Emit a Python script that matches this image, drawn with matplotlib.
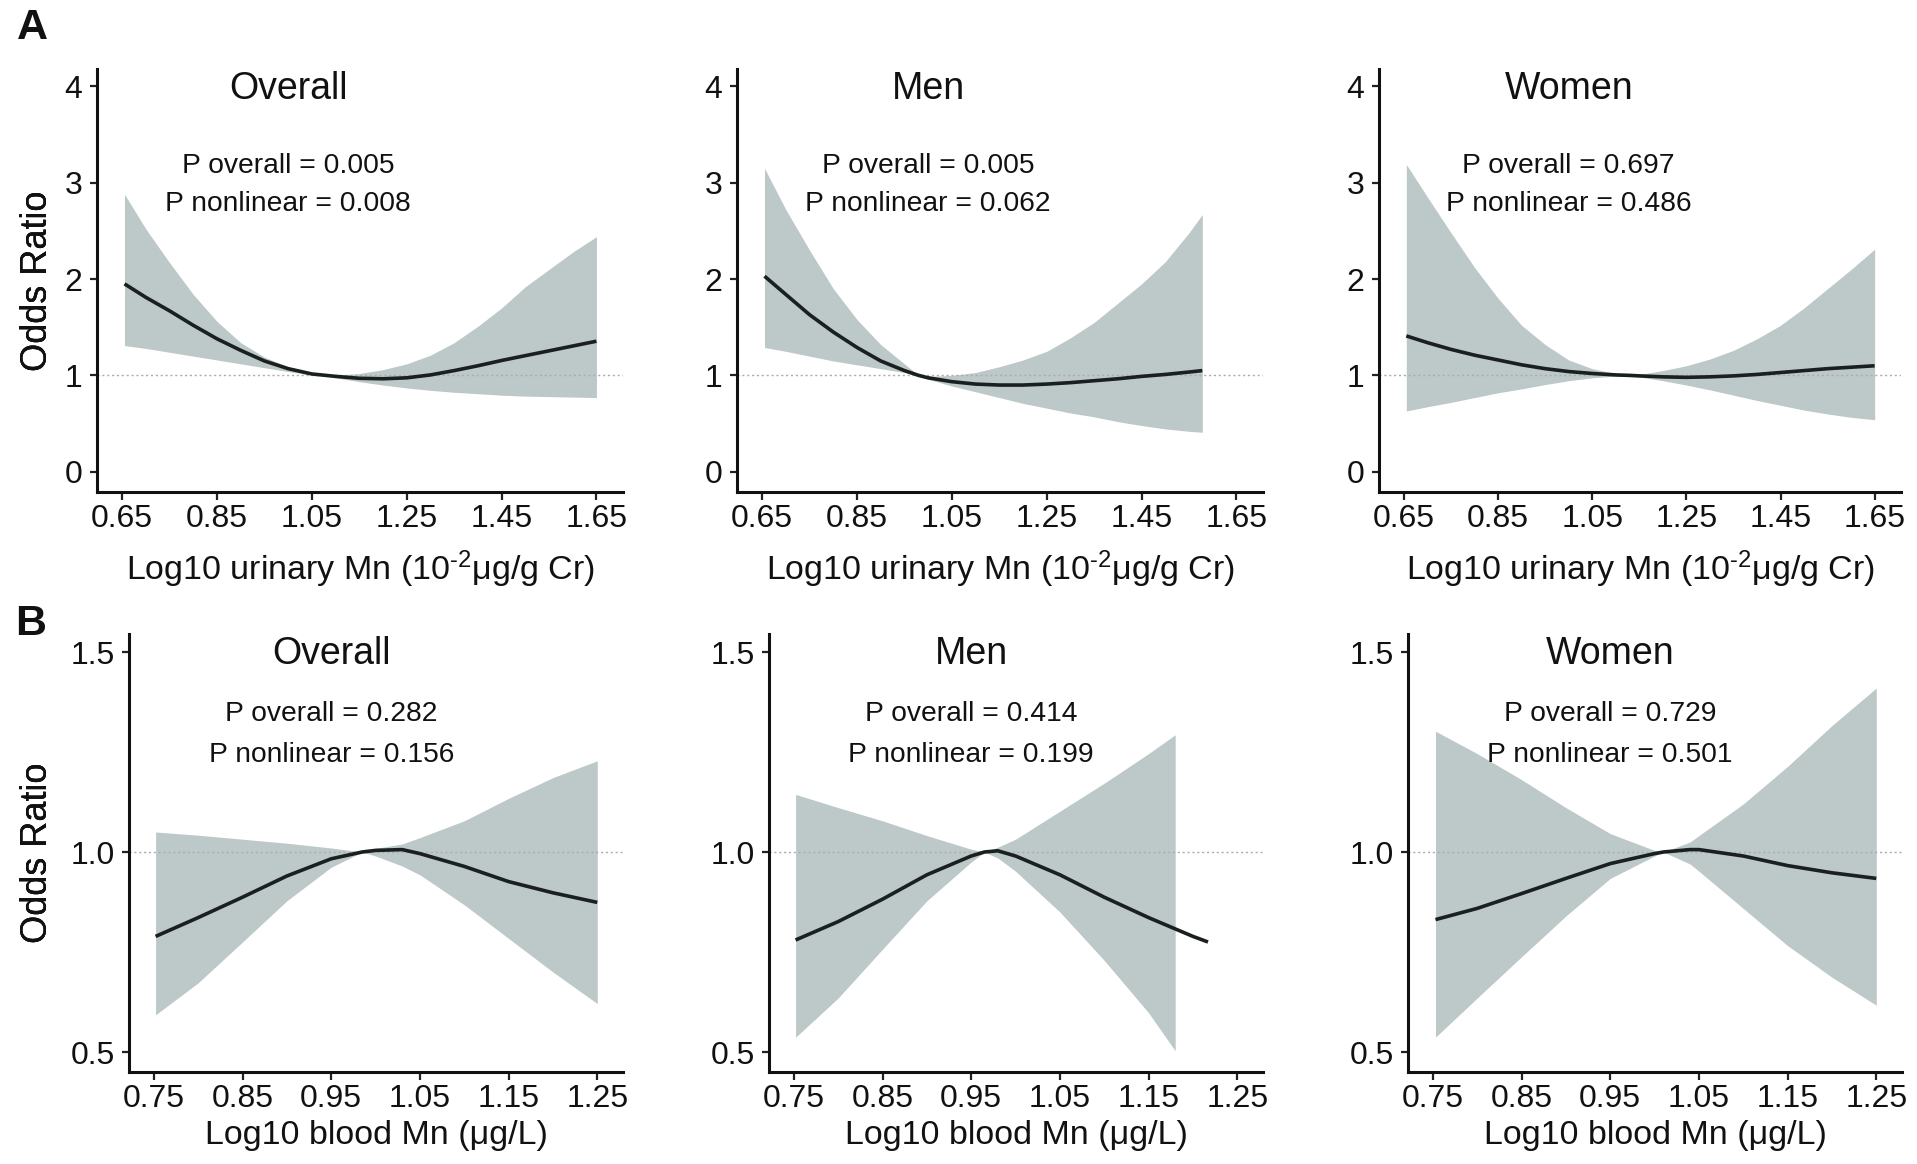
import matplotlib
matplotlib.use('Agg')
import matplotlib.pyplot as plt

plt.rcParams['font.family'] = ['Liberation Sans', 'DejaVu Sans']
plt.rcParams['mathtext.fontset'] = 'custom'
plt.rcParams['mathtext.rm'] = 'Liberation Sans'
plt.rcParams['mathtext.it'] = 'Liberation Sans:italic'
plt.rcParams['mathtext.bf'] = 'Liberation Sans:bold'

# ---------------- data ----------------
group_titles = ["Overall", "Men", "Women"]

# Row A: urinary Mn
a_xticks = [0.65, 0.85, 1.05, 1.25, 1.45, 1.65]
a_xticklabels = ["0.65", "0.85", "1.05", "1.25", "1.45", "1.65"]
a_yticks = [0, 1, 2, 3, 4]
a_yticklabels = ["0", "1", "2", "3", "4"]
a_xlabel = "Log10 urinary Mn (10$^{\\text{-}2}$μg/g Cr)"
a_p_overall = ["0.005", "0.005", "0.697"]
a_p_nonlinear = ["0.008", "0.062", "0.486"]

a1_x = [0.655, 0.70, 0.75, 0.80, 0.85, 0.90, 0.95, 1.00, 1.05, 1.08, 1.10, 1.15, 1.20, 1.25, 1.30, 1.35, 1.40, 1.45, 1.50, 1.55, 1.60, 1.65]
a1_or = [1.95, 1.81, 1.67, 1.52, 1.38, 1.26, 1.15, 1.07, 1.015, 1.0, 0.99, 0.97, 0.965, 0.975, 1.005, 1.05, 1.10, 1.155, 1.205, 1.255, 1.305, 1.355]
a1_hi = [2.88, 2.52, 2.17, 1.84, 1.56, 1.34, 1.19, 1.09, 1.025, 1.0, 1.0, 1.02, 1.06, 1.12, 1.21, 1.34, 1.51, 1.70, 1.92, 2.10, 2.28, 2.44]
a1_lo = [1.31, 1.28, 1.24, 1.20, 1.16, 1.12, 1.08, 1.04, 1.005, 1.0, 0.975, 0.935, 0.90, 0.87, 0.845, 0.825, 0.81, 0.795, 0.785, 0.78, 0.775, 0.77]

a2_x = [0.655, 0.70, 0.75, 0.80, 0.85, 0.90, 0.95, 0.98, 1.00, 1.05, 1.10, 1.15, 1.20, 1.25, 1.30, 1.35, 1.40, 1.45, 1.50, 1.55, 1.578]
a2_or = [2.03, 1.84, 1.63, 1.45, 1.29, 1.15, 1.05, 1.0, 0.975, 0.935, 0.91, 0.90, 0.90, 0.91, 0.925, 0.945, 0.965, 0.99, 1.01, 1.035, 1.05]
a2_hi = [3.15, 2.72, 2.30, 1.90, 1.58, 1.32, 1.12, 1.0, 0.99, 1.0, 1.03, 1.09, 1.16, 1.25, 1.39, 1.55, 1.75, 1.95, 2.18, 2.48, 2.67]
a2_lo = [1.29, 1.25, 1.20, 1.15, 1.11, 1.07, 1.03, 1.0, 0.96, 0.89, 0.83, 0.77, 0.71, 0.66, 0.61, 0.57, 0.52, 0.48, 0.445, 0.42, 0.41]

a3_x = [0.655, 0.70, 0.75, 0.80, 0.85, 0.90, 0.95, 1.00, 1.05, 1.10, 1.13, 1.15, 1.20, 1.25, 1.30, 1.35, 1.40, 1.45, 1.50, 1.55, 1.60, 1.65]
a3_or = [1.41, 1.34, 1.27, 1.21, 1.16, 1.11, 1.07, 1.04, 1.02, 1.005, 1.0, 0.995, 0.985, 0.98, 0.985, 0.995, 1.01, 1.03, 1.05, 1.07, 1.085, 1.10]
a3_hi = [3.19, 2.85, 2.48, 2.12, 1.80, 1.52, 1.32, 1.16, 1.07, 1.02, 1.0, 1.01, 1.05, 1.10, 1.17, 1.26, 1.38, 1.52, 1.70, 1.90, 2.10, 2.31]
a3_lo = [0.63, 0.675, 0.72, 0.77, 0.82, 0.86, 0.905, 0.945, 0.975, 0.993, 1.0, 0.985, 0.945, 0.90, 0.85, 0.795, 0.74, 0.69, 0.64, 0.60, 0.565, 0.54]

# Row B: blood Mn
b_xticks = [0.75, 0.85, 0.95, 1.05, 1.15, 1.25]
b_xticklabels = ["0.75", "0.85", "0.95", "1.05", "1.15", "1.25"]
b_yticks = [0.5, 1.0, 1.5]
b_yticklabels = ["0.5", "1.0", "1.5"]
b_xlabel = "Log10 blood Mn (μg/L)"
b_p_overall = ["0.282", "0.414", "0.729"]
b_p_nonlinear = ["0.156", "0.199", "0.501"]

b1_x = [0.752, 0.80, 0.85, 0.90, 0.95, 0.985, 1.00, 1.03, 1.05, 1.10, 1.15, 1.20, 1.25]
b1_or = [0.789, 0.836, 0.887, 0.94, 0.983, 1.0, 1.004, 1.006, 0.996, 0.964, 0.926, 0.898, 0.874]
b1_hi = [1.05, 1.042, 1.032, 1.022, 1.01, 1.0, 1.009, 1.02, 1.036, 1.078, 1.134, 1.186, 1.228]
b1_lo = [0.593, 0.673, 0.775, 0.878, 0.962, 1.0, 0.99, 0.965, 0.943, 0.868, 0.784, 0.70, 0.621]

b2_x = [0.752, 0.80, 0.85, 0.90, 0.95, 0.965, 0.98, 1.00, 1.05, 1.10, 1.15, 1.20, 1.217]
b2_or = [0.780, 0.826, 0.882, 0.943, 0.99, 1.0, 1.003, 0.99, 0.943, 0.887, 0.836, 0.789, 0.775]
b2_band_x = [0.752, 0.80, 0.85, 0.90, 0.95, 0.965, 0.98, 1.00, 1.05, 1.10, 1.15, 1.18]
b2_hi = [1.144, 1.111, 1.078, 1.041, 1.007, 1.0, 1.012, 1.032, 1.102, 1.172, 1.246, 1.293]
b2_lo = [0.537, 0.635, 0.757, 0.878, 0.975, 1.0, 0.985, 0.952, 0.85, 0.729, 0.598, 0.503]

b3_x = [0.753, 0.80, 0.85, 0.90, 0.95, 1.00, 1.01, 1.04, 1.05, 1.10, 1.15, 1.20, 1.25]
b3_or = [0.831, 0.859, 0.896, 0.934, 0.971, 0.996, 1.0, 1.006, 1.006, 0.99, 0.966, 0.948, 0.934]
b3_hi = [1.302, 1.246, 1.181, 1.111, 1.046, 1.004, 1.0, 1.025, 1.041, 1.12, 1.214, 1.316, 1.41]
b3_lo = [0.537, 0.635, 0.738, 0.840, 0.934, 0.99, 1.0, 0.97, 0.952, 0.859, 0.766, 0.687, 0.617]

# ---------------- style ----------------
W, H = 1917, 1164
FILL = '#bdc8c8'
LINE = '#1a1f1f'
TXT = '#111111'

fig = plt.figure(figsize=(W / 100, H / 100), dpi=100)

rowA = dict(lefts=[(97, 623), (737, 1263), (1379, 1901)], top=69, bottom=492,
            xlim=(0.597, 1.706), ylim=(-0.21, 4.18),
            xticks=a_xticks, xticklabels=a_xticklabels,
            yticks=a_yticks, yticklabels=a_yticklabels,
            xlabel=a_xlabel, labelpad=10,
            title_xy=(1.0, 3.97), p1_y=3.175, p2_y=2.78,
            pov=a_p_overall, pnl=a_p_nonlinear,
            curves=[(a1_x, a1_or, a1_x, a1_lo, a1_hi),
                    (a2_x, a2_or, a2_x, a2_lo, a2_hi),
                    (a3_x, a3_or, a3_x, a3_lo, a3_hi)])
rowB = dict(lefts=[(129, 623), (769, 1263), (1408, 1902)], top=634, bottom=1072,
            xlim=(0.722, 1.279), ylim=(0.45, 1.545),
            xticks=b_xticks, xticklabels=b_xticklabels,
            yticks=b_yticks, yticklabels=b_yticklabels,
            xlabel=b_xlabel, labelpad=4,
            title_xy=(0.95, 1.496), p1_y=1.344, p2_y=1.242,
            pov=b_p_overall, pnl=b_p_nonlinear,
            curves=[(b1_x, b1_or, b1_x, b1_lo, b1_hi),
                    (b2_x, b2_or, b2_band_x, b2_lo, b2_hi),
                    (b3_x, b3_or, b3_x, b3_lo, b3_hi)])

for row in (rowA, rowB):
    for i, (l, r) in enumerate(row['lefts']):
        t, b = row['top'], row['bottom']
        ax = fig.add_axes([l / W, 1 - b / H, (r - l) / W, (b - t) / H])
        x, y, bx, lo, hi = row['curves'][i]
        ax.fill_between(bx, lo, hi, color=FILL, lw=0, zorder=1)
        ax.axhline(1.0, color='#a9adad', lw=1.0, ls=(0, (1.5, 2.0)), zorder=2)
        ax.plot(x, y, color=LINE, lw=2.6, zorder=3, solid_capstyle='butt',
                solid_joinstyle='round')
        ax.set_xlim(*row['xlim'])
        ax.set_ylim(*row['ylim'])
        ax.set_xticks(row['xticks'])
        ax.set_xticklabels(row['xticklabels'])
        ax.set_yticks(row['yticks'])
        ax.set_yticklabels(row['yticklabels'])
        for s in ('top', 'right'):
            ax.spines[s].set_visible(False)
        for s in ('left', 'bottom'):
            ax.spines[s].set_linewidth(2.2)
            ax.spines[s].set_color('#111111')
        ax.tick_params(axis='both', length=5.4, width=1.6, color='#222222',
                       labelsize=23, labelcolor=TXT)
        ax.tick_params(axis='x', pad=3.5)
        ax.tick_params(axis='y', pad=5)
        ax.set_xlabel(row['xlabel'], fontsize=24.5, color=TXT, labelpad=row['labelpad'])
        ax.set_ylabel("Odds Ratio", fontsize=26, color=TXT)
        ax.yaxis.set_label_coords((55 - l) / (r - l), 0.5)
        tx, ty = row['title_xy']
        ax.text(tx, ty, group_titles[i], ha='center', va='center', fontsize=27, color=TXT)
        ax.text(tx, row['p1_y'], "P overall = " + row['pov'][i], ha='center', va='center',
                fontsize=20.3, color=TXT)
        ax.text(tx, row['p2_y'], "P nonlinear = " + row['pnl'][i], ha='center', va='center',
                fontsize=20.3, color=TXT)

fig.text(32 / W, 1 - 28 / H, "A", fontsize=31, fontweight='bold', ha='center', va='center', color=TXT)
fig.text(31 / W, 1 - 624 / H, "B", fontsize=31, fontweight='bold', ha='center', va='center', color=TXT)

fig.savefig('out.png', dpi=100, facecolor='white')
